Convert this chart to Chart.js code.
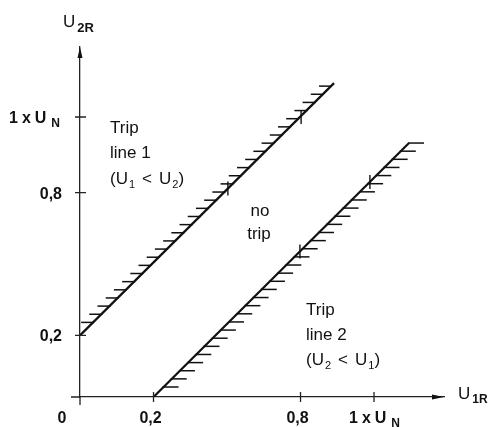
<!DOCTYPE html>
<html><head><meta charset="utf-8">
<script src="https://cdn.jsdelivr.net/npm/chart.js@4/dist/chart.umd.min.js"></script>
<style>html,body{margin:0;padding:0;background:#fff}#wrap{width:496px;height:427px}</style>
</head><body><div id="wrap"><canvas id="c" width="496" height="427"></canvas></div>
<script>
// Schematic axes: tick positions (axis units) and their printed labels
const xTickValues = [0, 0.25, 0.75, 1.0];
const xTickLabels = ['0', '0,2', '0,8', '1 x U_N'];
const yTickValues = [0.22, 0.73, 1.0];
const yTickLabels = ['0,2', '0,8', '1 x U_N'];

// Trip line 1 (U1 < U2) and trip line 2 (U2 < U1)
const line1X = [0, 0.864];
const line1Y = [0.22, 1.121];
const line2X = [0.25, 1.119];
const line2Y = [0, 0.907];

// cross marks on the trip lines
const line1MarkX = [0.503, 0.752];
const line1MarkY = [0.745, 1.0];
const line2MarkX = [0.748, 0.986];
const line2MarkY = [0.52, 0.768];

const toPts = (xs, ys) => xs.map((x, i) => ({x, y: ys[i]}));

const FONT = '"Liberation Sans", Arial, Helvetica, sans-serif';
const INK = '#111';

function drawRich(ctx, parts, x, y) {
  let cx = x;
  for (const p of parts) {
    ctx.font = p.f;
    ctx.fillText(p.t, cx, y + (p.dy || 0));
    cx += ctx.measureText(p.t).width + (p.gap || 0);
  }
}

const hatchPlugin = {
  id: 'hatch',
  afterDatasetsDraw(chart) {
    const ctx = chart.ctx;
    chart.data.datasets.forEach((ds, i) => {
      if (!ds.hatch) return;
      const pts = chart.getDatasetMeta(i).data;
      const a = pts[0], b = pts[pts.length - 1];
      const h = ds.hatch;
      const y0 = a.y - h.startGap, y1 = b.y + h.endGap;
      ctx.save();
      ctx.strokeStyle = INK;
      ctx.lineWidth = 1.5;
      for (let k = 0; k < h.count; k++) {
        const y = y0 + (y1 - y0) * k / (h.count - 1);
        const t = (y - a.y) / (b.y - a.y);
        const x = a.x + (b.x - a.x) * t;
        ctx.beginPath();
        ctx.moveTo(x + h.from, y);
        ctx.lineTo(x + h.to, y);
        ctx.stroke();
      }
      ctx.restore();
    });
  }
};

const axisPlugin = {
  id: 'axisDeco',
  afterDraw(chart) {
    const ctx = chart.ctx;
    const xs = chart.scales.x, ys = chart.scales.y;
    const ox = xs.getPixelForValue(0), oy = ys.getPixelForValue(0);
    const xEnd = xs.getPixelForValue(xs.max), yEnd = ys.getPixelForValue(ys.max);
    ctx.save();
    ctx.strokeStyle = '#222';
    ctx.fillStyle = INK;
    ctx.lineWidth = 1.3;
    // axis overhang at origin
    ctx.beginPath();
    ctx.moveTo(ox - 9, oy); ctx.lineTo(ox, oy);
    ctx.moveTo(ox, oy); ctx.lineTo(ox, oy + 8);
    ctx.stroke();
    // ticks crossing the axes
    ctx.beginPath();
    xTickValues.forEach(v => { if (v === 0) return; const px = xs.getPixelForValue(v); ctx.moveTo(px, oy - 5); ctx.lineTo(px, oy + 5); });
    yTickValues.forEach(v => { const py = ys.getPixelForValue(v); ctx.moveTo(ox - 5, py); ctx.lineTo(ox + 6, py); });
    ctx.stroke();
    // arrows
    ctx.beginPath();
    ctx.moveTo(ox, yEnd); ctx.lineTo(ox - 2.5, yEnd + 11); ctx.lineTo(ox + 2.5, yEnd + 11); ctx.closePath();
    ctx.moveTo(xEnd, oy); ctx.lineTo(xEnd - 12, oy - 2.5); ctx.lineTo(xEnd - 12, oy + 2.5); ctx.closePath();
    ctx.fill();

    // tick labels
    const tf = 'bold 16px ' + FONT;
    const sf = 'bold 12px ' + FONT;
    ctx.textBaseline = 'alphabetic';
    const label = (txt) => {
      if (txt.includes('_')) {
        const [m, s] = txt.split('_');
        const words = m.split(' ');
        return [{t: words[0], f: tf, gap: 4}, {t: words[1], f: tf, gap: 4}, {t: words[2], f: tf, gap: 5}, {t: s, f: sf, dy: 4}];
      }
      return [{t: txt, f: tf}];
    };
    const width = (parts) => parts.reduce((w, p) => { ctx.font = p.f; return w + ctx.measureText(p.t).width + (p.gap || 0); }, 0);
    xTickValues.forEach((v, i) => {
      const parts = label(xTickLabels[i]);
      const px = xs.getPixelForValue(v);
      let left;
      if (v === 0) left = px - 18 - width(parts) / 2;
      else if (xTickLabels[i].includes('_')) left = px - 25;
      else left = px - 3 - width(parts) / 2;
      drawRich(ctx, parts, left, oy + 26);
    });
    yTickValues.forEach((v, i) => {
      const parts = label(yTickLabels[i]);
      const py = ys.getPixelForValue(v);
      let left;
      if (yTickLabels[i].includes('_')) left = 9;
      else left = ox - 18 - width(parts);
      drawRich(ctx, parts, left, py + 6);
    });

    // axis titles
    drawRich(ctx, [{t: 'U', f: '17px ' + FONT, gap: 2}, {t: '2R', f: 'bold 13px ' + FONT, dy: 5}], 63, 27);
    drawRich(ctx, [{t: 'U', f: '17px ' + FONT, gap: 2}, {t: '1R', f: 'bold 12px ' + FONT, dy: 4}], 458, 399);

    // region annotations
    const af = '17px ' + FONT, asf = '11px ' + FONT;
    ctx.font = af;
    ctx.fillText('Trip', 110, 133);
    ctx.fillText('line 1', 110, 158);
    drawRich(ctx, [{t: '(U', f: af, gap: 1}, {t: '1', f: asf, dy: 4, gap: 7}, {t: '<', f: af, gap: 7}, {t: 'U', f: af, gap: 1}, {t: '2', f: asf, dy: 4}, {t: ')', f: af}], 110, 184);
    ctx.textAlign = 'center';
    ctx.fillText('no', 260, 216);
    ctx.fillText('trip', 259, 239);
    ctx.textAlign = 'left';
    ctx.fillText('Trip', 306, 315);
    ctx.fillText('line 2', 306, 340);
    drawRich(ctx, [{t: '(U', f: af, gap: 1}, {t: '2', f: asf, dy: 4, gap: 7}, {t: '<', f: af, gap: 7}, {t: 'U', f: af, gap: 1}, {t: '1', f: asf, dy: 4}, {t: ')', f: af}], 306, 365);
    ctx.restore();
  }
};

const lineStyle = {showLine: true, borderColor: INK, borderWidth: 2.2, pointRadius: 0, fill: false, tension: 0};
const markStyle = {showLine: false, pointStyle: 'line', rotation: 90, pointRadius: 7, pointBorderColor: INK, pointBorderWidth: 1.4, borderColor: INK};

new Chart(document.getElementById('c'), {
  type: 'scatter',
  data: {
    datasets: [
      Object.assign({label: 'Trip line 1', data: toPts(line1X, line1Y), hatch: {from: -12, to: 1, startGap: 13, endGap: 3, count: 30}}, lineStyle),
      Object.assign({label: 'Trip line 2', data: toPts(line2X, line2Y), hatch: {from: -1, to: 15, startGap: 10, endGap: 0, count: 31}}, lineStyle),
      Object.assign({label: 'marks 1', data: toPts(line1MarkX, line1MarkY)}, markStyle),
      Object.assign({label: 'marks 2', data: toPts(line2MarkX, line2MarkY)}, markStyle)
    ]
  },
  options: {
    responsive: false,
    animation: false,
    devicePixelRatio: 1,
    layout: {padding: {top: 47, right: 52, left: 0, bottom: 0}},
    plugins: {legend: {display: false}, tooltip: {enabled: false}},
    scales: {
      x: {type: 'linear', min: 0, max: 1.238, grid: {display: false}, ticks: {display: false},
          border: {display: true, color: '#222', width: 1.3}, afterFit(s) { s.height = 30; }},
      y: {type: 'linear', min: 0, max: 1.25, grid: {display: false}, ticks: {display: false},
          border: {display: true, color: '#222', width: 1.3}, afterFit(s) { s.width = 80; }}
    }
  },
  plugins: [hatchPlugin, axisPlugin]
});
</script></body></html>
